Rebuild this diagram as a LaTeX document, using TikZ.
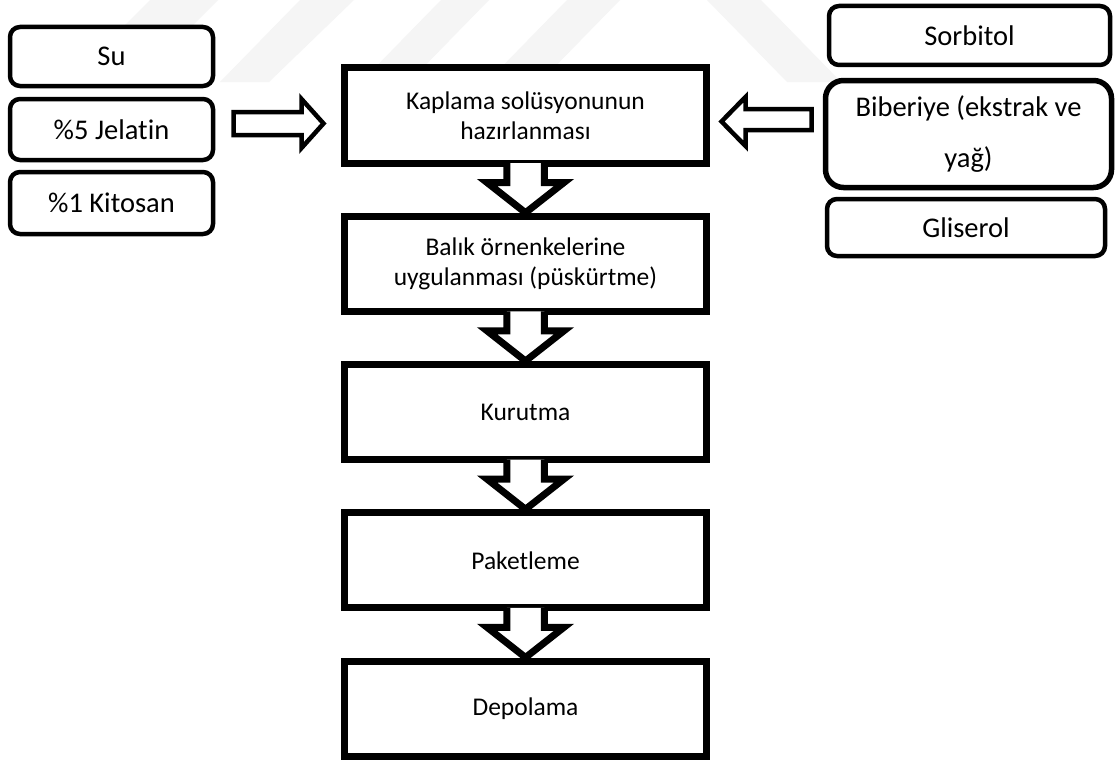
\documentclass[tikz,border=0pt]{standalone}
\usepackage{fontspec}
\setmainfont[Ligatures=NoCommon]{Carlito}
\usetikzlibrary{calc}
\begin{document}
\begin{tikzpicture}[x=1pt,y=-1pt,
  mainbox/.style={draw=black,fill=white,line width=7pt,minimum width=362pt,minimum height=95pt,inner sep=0pt,align=center,font=\fontsize{25.5}{29.5}\selectfont},
  sidebox/.style={draw=black,fill=white,line width=4.5pt,rounded corners=10pt,inner sep=0pt,align=center,font=\fontsize{28.5}{51}\selectfont},
  harrow/.style={draw=black,fill=white,line width=4.5pt,line join=miter},
  darrow/.style={draw=black,fill=white,line width=7pt,line join=miter},
  wm/.style={fill=black!4,draw=none}]
\useasboundingbox (0,0) rectangle (1116,760);
\fill[white] (0,0) rectangle (1116,760);
% faint watermark stripes
\fill[wm] (150,0) -- (218,0) -- (136,82) -- (68,82) -- cycle;
\fill[wm] (300,0) -- (354,0) -- (269,82) -- (220,82) -- cycle;
\fill[wm] (441,0) -- (489,0) -- (409,82) -- (361,82) -- cycle;
\fill[wm] (567,0) -- (620,0) -- (540,82) -- (487,82) -- cycle;
\fill[wm] (707,0) -- (761,0) -- (841,82) -- (787,82) -- cycle;
% main column
\node[mainbox] (k1) at (525.5,115.5) {Kaplama solüsyonunun\\hazırlanması};
\node[mainbox] (k2) at (525.5,263.75) {Balık örnenkelerine\\uygulanması (püskürtme)};
\node[mainbox] (k3) at (525.5,412) {Kurutma};
\node[mainbox] (k4) at (525.5,560.25) {Paketleme};
\node[mainbox] (k5) at (525.5,708.5) {Depolama};
% left ingredients
\node[sidebox,minimum width=203pt,minimum height=59pt] (su) at (111.5,56.5) {Su};
\node[sidebox,minimum width=203pt,minimum height=61pt] (jel) at (111.5,129.5) {\%5 Jelatin};
\node[sidebox,minimum width=203pt,minimum height=62pt] (kit) at (111.5,203) {\%1 Kitosan};
% right ingredients
\node[sidebox,minimum width=281pt,minimum height=59pt] (sor) at (969.5,35.5) {Sorbitol};
\node[sidebox,line width=5.5pt,rounded corners=18pt,minimum width=286pt,minimum height=107pt] (bib) at (968.5,134) {Biberiye (ekstrak ve\\yağ)};
\node[sidebox,minimum width=278pt,minimum height=57pt] (gli) at (966,227.5) {Gliserol};
% horizontal block arrows
\coordinate (la) at ($(k1.west)+(-17.5,8)$);
\coordinate (ra) at ($(k1.east)+(11.5,6)$);
\draw[harrow] (la) ++(-90,-11.5) -- ++(68,0) -- ++(0,-13) -- (la) -- ++(-22,24.5) -- ++(0,-13) -- ++(-68,0) -- cycle;
\draw[harrow] (ra) -- ++(24,-24.5) -- ++(0,12) -- ++(66,0) -- ++(0,21) -- ++(-66,0) -- ++(0,16) -- cycle;
% vertical block arrows
\foreach \a/\b in {k1/k2,k2/k3,k3/k4,k4/k5}{
  \filldraw[darrow] ($(\a.south)+(-18.75,-3.5)$) -- ($(\a.south)+(-18.75,16)$) -- ($(\a.south)+(-38.5,16)$) -- (\b.north) -- ($(\a.south)+(38.5,16)$) -- ($(\a.south)+(18.75,16)$) -- ($(\a.south)+(18.75,-3.5)$);
}
\end{tikzpicture}
\end{document}
